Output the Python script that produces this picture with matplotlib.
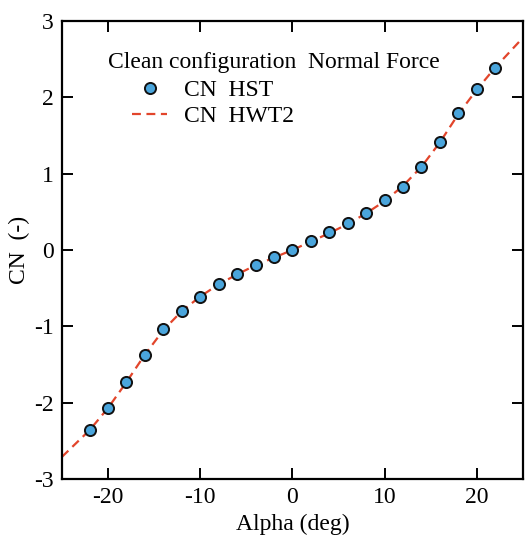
import matplotlib
matplotlib.use("Agg")
import matplotlib.pyplot as plt

alpha_hst = [-22, -20, -18, -16, -14, -12, -10, -8, -6, -4, -2, 0, 2, 4, 6, 8, 10, 12, 14, 16, 18, 20, 22]
cn_hst = [-2.36, -2.07, -1.73, -1.37, -1.04, -0.80, -0.62, -0.45, -0.31, -0.20, -0.09, 0.0,
          0.12, 0.23, 0.35, 0.48, 0.65, 0.83, 1.09, 1.42, 1.79, 2.11, 2.38]
alpha_hwt = [-25, -22, -20, -18, -16, -14, -12, -10, -8, -6, -4, -2, 0, 2, 4, 6, 8, 10, 12, 14, 16, 18, 20, 22, 25]
cn_hwt = [-2.71, -2.36, -2.07, -1.73, -1.37, -1.05, -0.80, -0.61, -0.45, -0.32, -0.20, -0.10, 0.0,
          0.11, 0.22, 0.34, 0.48, 0.64, 0.84, 1.09, 1.41, 1.78, 2.10, 2.39, 2.78]

plt.rcParams['font.family'] = ['Liberation Serif', 'DejaVu Serif']
plt.rcParams['axes.unicode_minus'] = False
fig = plt.figure(figsize=(5.25, 5.37), dpi=100)
ax = fig.add_axes([0.118, 0.108, 0.878, 0.853])

ax.plot(alpha_hwt, cn_hwt, linestyle=(0, (4, 2.5)), color='#e2452b', lw=1.6, label='CN  HWT2', zorder=2)
ax.plot(alpha_hst, cn_hst, linestyle='none', marker='o', ms=8, mfc='#4aa5dc', mec='#111111', mew=1.4,
        label='CN  HST', zorder=3)

ax.set_xlim(-25, 25)
ax.set_ylim(-3, 3)
ax.set_xticks([-20, -10, 0, 10, 20])
ax.set_yticks([-3, -2, -1, 0, 1, 2, 3])
ax.tick_params(direction='in', length=8, width=1.4, top=True, right=True, labelsize=17, pad=6)
for s in ax.spines.values():
    s.set_linewidth(1.6)
ax.set_xlabel('Alpha (deg)', fontsize=17, labelpad=4)
ax.set_ylabel('CN  (-)', fontsize=17, labelpad=3)

ax.text(-20.0, 2.46, 'Clean configuration  Normal Force', fontsize=17, va='center', ha='left')
handles, labels = ax.get_legend_handles_labels()
ax.legend([handles[1], handles[0]], [labels[1], labels[0]], loc='upper left',
          bbox_to_anchor=(0.152, 0.872), frameon=False, fontsize=17, handlelength=1.5,
          handletextpad=0.7, labelspacing=0.2, borderaxespad=0, borderpad=0)

fig.savefig('out.png', dpi=100)
